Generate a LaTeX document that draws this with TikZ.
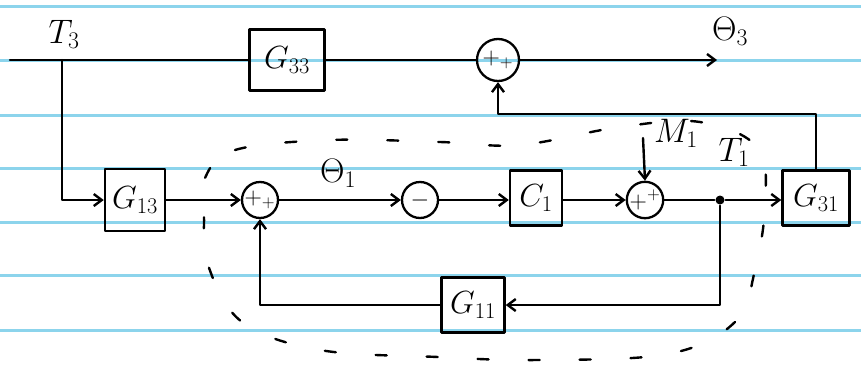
\RequirePackage{fix-cm}
\documentclass[tikz,border=0pt]{standalone}
\usetikzlibrary{arrows.meta}
\definecolor{paperline}{RGB}{140,212,236}
\begin{document}
\begin{tikzpicture}[x=1pt,y=-1pt, line width=2.4pt, line cap=round, line join=round,
  >={Straight Barb[length=8pt,width=12pt]},
  blk/.style={draw, line width=2.5pt, inner sep=0pt, font=\fontsize{32}{36}\selectfont},
  sumc/.style={draw, circle, line width=2.3pt, inner sep=0pt, font=\fontsize{24}{26}\selectfont},
  lbl/.style={font=\fontsize{34}{38}\selectfont, inner sep=0pt},
  paper/.style={draw=paperline, line width=3pt},
  bnd/.style={line width=2.4pt, dash pattern=on 11pt off 40pt}]
\useasboundingbox (0,0) rectangle (861,370);
\fill[white] (0,0) rectangle (861,370);
\foreach \y in {6,60,115,168,222,275,330} \draw[paper] (0,\y) -- (861,\y);

% blocks
\node[blk, minimum width=75pt, minimum height=61pt] (g33) at (287,60) {$G_{33}$};
\node[sumc, minimum size=42pt] (s3) at (498,60) {$+_{+}$};
\node[blk, minimum width=60pt, minimum height=62pt] (g13) at (135,200) {$G_{13}$};
\node[sumc, minimum size=36pt] (s1) at (260,200) {$+_{+}$};
\node[sumc, minimum size=36pt] (m) at (420,200) {$-$};
\node[blk, minimum width=52pt, minimum height=55pt] (c1) at (536,198) {$C_1$};
\node[sumc, minimum size=34pt] (s2) at (645,200) {$+^{+}$};
\node[blk, minimum width=67pt, minimum height=55pt] (g31) at (816,198) {$G_{31}$};
\node[blk, minimum width=63pt, minimum height=55pt] (g11) at (473,305) {$G_{11}$};
\node[fill, circle, inner sep=0pt, minimum size=9pt] (j) at (720,200) {};

% labels
\node[lbl] (t3) at (64,34) {$T_3$};
\node[lbl] (th3) at (730,31) {$\Theta_3$};
\node[lbl] (th1) at (338,173) {$\Theta_1$};
\node[lbl] (m1) at (676,133) {$M_1$};
\node[lbl] (t1) at (734,152) {$T_1$};

\coordinate (in) at (10,60);
\coordinate (tb) at (62,60);
\coordinate (out) at (717,60);
\coordinate (m1s) at (643,138);

% connectors
\draw (in) -- (g33.west);
\draw (g33.east) -- (s3.west);
\draw[->] (s3.east) -- (out);
\draw[->] (tb) |- (g13.west);
\draw[->] (g13.east) -- (s1.west);
\draw[->] (s1.east) -- (m.west);
\draw[->] (m.east) -- (c1.west |- m.east);
\draw[->] (c1.east |- s2.west) -- (s2.west);
\draw[->] (m1s) -- (s2.north);
\draw (s2.east) -- (j);
\draw[->] (j) -- (g31.west |- j);
\draw[->] (j) |- (g11.east);
\draw[->] (g11.west) -| (s1.south);
\draw[->] (g31.north) -- ++(0,-55) -| (s3.south);

% dashed boundary
\draw[bnd] plot[smooth cycle, tension=0.6] coordinates {
  (205,178) (235,150) (330,140) (440,142) (520,145) (620,127) (700,122)
  (758,148) (765,205) (755,270) (735,322) (668,354) (537,360) (438,357)
  (320,350) (242,322) (208,265) (204,215)};
\end{tikzpicture}
\end{document}
